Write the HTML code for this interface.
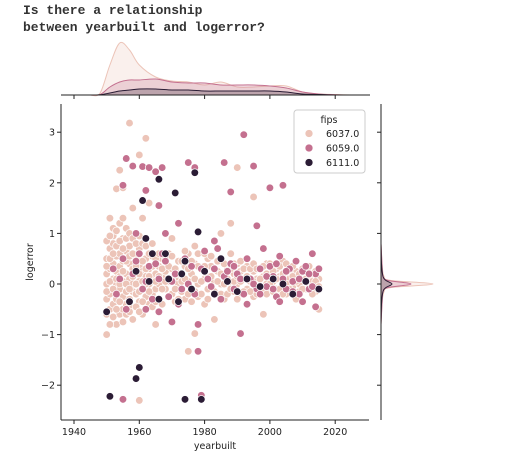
<!DOCTYPE html>
<html><head><meta charset="utf-8"><style>
body{margin:0;background:#fff;}
svg text{font-family:"DejaVu Sans","Liberation Sans",sans-serif;}
</style></head><body>
<svg id="chart" width="510" height="463" viewBox="0 0 510 463" xmlns="http://www.w3.org/2000/svg">
<text x="23" y="14" style="font-family:'Liberation Mono',monospace;font-size:13px;font-weight:bold" fill="#333">Is there a relationship</text>
<text x="23" y="31" style="font-family:'Liberation Mono',monospace;font-size:13px;font-weight:bold" fill="#333">between yearbuilt and logerror?</text>
<g id="topm"></g>
<g id="rightm"></g>
<g id="main"></g>
<g id="axes"></g>
</svg>
<script>
const seriesNames=["6037.0","6059.0","6111.0"];
const seriesColors=["#ecc4b8","#c4708f","#2b1c35"];
const xTicks=[1940,1960,1980,2000,2020];
const yTicks=[-2,-1,0,1,2,3];
const s6037=[[1957,3.18],[1960,2.55],[1962,2.88],[1954,2.25],[1953,1.88],[1955,1.9],[1951,1.3],[1958,1.5],[1961,1.3],[1950,-1.0],[1953,-0.8],[1960,-2.3],[1975,-1.33],[1977,-0.98],[1988,1.2],[1995,1.72],[1990,2.3],[1985,1.0],[1998,-0.6],[1970,0.9],[1963,1.6],[1956,1.1],[1952,0.95],[1965,-0.8],[1983,-0.7],
[1950,0.2],[1950,-0.3],[1950,0.5],[1950,0],[1951,0.3],[1951,-0.2],[1951,0.7],[1951,-0.5],[1952,0.1],[1952,-0.4],[1952,0.4],[1952,0.8],[1953,0],[1953,0.55],[1953,-0.3],[1953,0.25],[1954,0.15],[1954,-0.6],[1954,0.6],[1954,-0.1],[1954,0.35],[1955,0.05],[1955,-0.25],[1955,0.45],[1955,0.9],[1955,-0.5],[1956,0.2],[1956,-0.15],[1956,0.65],[1956,-0.4],[1957,0.1],[1957,0.4],[1957,-0.3],[1957,0.75],[1958,0],[1958,0.3],[1958,-0.45],[1958,-0.15],[1959,0.2],[1959,0.5],[1959,-0.2],[1960,0.05],[1960,0.35],[1960,-0.35],[1960,0.7],[1961,-0.1],[1961,0.25],[1961,-0.6],[1962,0.15],[1962,0.5],[1962,-0.25],[1963,0],[1963,0.3],[1963,-0.4],[1964,0.1],[1964,-0.2],[1964,0.55],[1965,0.2],[1965,-0.1],[1966,0.35],[1966,0],[1966,-0.3],[1967,0.15],[1967,0.5],[1968,-0.1],[1968,0.25],[1969,0.05],[1969,0.6],[1970,-0.2],[1970,0.3],[1971,0.1],[1971,-0.35],[1972,0.45],[1972,0],[1973,0.2],[1973,-0.15],[1974,0.35],[1974,-0.3],[1975,0.05],[1975,0.6],[1976,0.2],[1976,-0.1],[1977,0.4],[1977,0.75],[1978,0],[1978,-0.25],[1979,0.3],[1980,0.1],[1980,-0.4],[1981,0.5],[1981,0.15],[1982,-0.1],[1982,0.35],[1983,0.05],[1984,0.25],[1984,-0.2],[1985,0.45],[1985,0],[1986,0.15],[1986,-0.3],[1987,0.3],[1988,0.05],[1988,0.6],[1989,-0.15],[1989,0.2],[1990,0.4],[1990,0],[1991,-0.2],[1991,0.25],[1992,0.1],[1993,0.35],[1993,-0.1],[1994,0.05],[1995,0.25],[1995,-0.25],[1996,0.1],[1997,0.3],[1997,-0.1],[1998,0.15],[1999,0],[1999,0.4],[2000,0.2],[2000,-0.15],[2001,0.05],[2002,0.3],[2002,-0.1],[2003,0.15],[2004,0],[2004,0.45],[2005,-0.2],[2005,0.2],[2006,0.1],[2007,-0.05],[2008,0.25],[2009,0],[2010,0.1],[2011,-0.1],[2012,0.15],[2013,0.05],[2014,-0.15],[2015,0.1],[2015,-0.5],[2012,0.35],[2008,-0.3],
[1950,0.85],[1950,-0.6],[1950,0.35],[1950,-0.15],[1951,0.05],[1951,0.95],[1951,-0.8],[1951,0.5],[1952,-0.1],[1952,0.6],[1952,-0.65],[1952,1.1],[1953,0.75],[1953,-0.5],[1953,1.05],[1953,0.1],[1954,0.85],[1954,-0.35],[1954,1.2],[1954,0],[1955,0.25],[1955,-0.75],[1955,0.7],[1955,1.3],[1956,0.45],[1956,-0.6],[1956,0.9],[1956,0],[1957,-0.1],[1957,0.55],[1957,-0.55],[1957,1.0],[1958,0.6],[1958,-0.7],[1958,0.15],[1958,0.9],[1959,0],[1959,-0.45],[1959,0.8],[1959,0.35],[1960,0.2],[1960,-0.55],[1960,0.95],[1960,-0.15],[1961,0.45],[1961,0.05],[1961,0.8],[1961,-0.35],[1962,0],[1962,0.75],[1962,-0.5],[1962,0.3],[1963,0.6],[1963,-0.15],[1963,0.15],[1964,0.35],[1964,-0.45],[1964,0.8],[1965,0.5],[1965,-0.35],[1965,0.05],[1966,0.6],[1966,0.15],[1967,-0.1],[1967,-0.4],[1967,0.3],[1968,0.5],[1968,0.05],[1969,0.35],[1969,-0.25],[1970,0.1],[1970,0.55],[1971,0.3],[1971,-0.1],[1972,0.2],[1972,-0.3],[1973,0.45],[1973,0.05],[1974,0.1],[1974,0.65],[1975,-0.2],[1975,0.3],[1976,0.45],[1976,-0.35],[1977,0.1],[1977,-0.15],[1978,0.35],[1978,0.6],[1979,0.05],[1979,-0.2],[1980,0.35],[1980,0.6],[1981,-0.1],[1981,-0.3],[1982,0.15],[1982,0.55],[1983,0.3],[1983,-0.15],[1984,0.05],[1984,0.45],[1985,0.2],[1985,-0.2],[1986,0.4],[1986,0],[1987,0.1],[1987,-0.2],[1988,0.3],[1988,-0.1],[1989,0.05],[1989,0.4],[1990,0.15],[1990,-0.3],[1991,0.05],[1991,0.45],[1992,0.3],[1992,-0.15],[1993,0.15],[1994,-0.15],[1994,0.3],[1995,0.05],[1995,0.4],[1996,-0.2],[1996,0.3],[1997,0.1],[1998,-0.1],[1998,0.35],[1999,0.2],[1999,-0.2],[2000,0],[2000,0.4],[2001,0.25],[2001,-0.15],[2002,0.1],[2003,-0.1],[2003,0.35],[2004,0.2],[2004,-0.2],[2005,0],[2005,0.4],[2006,-0.1],[2006,0.25],[2007,0.15],[2007,0.35],[2008,0.05],[2009,0.2],[2009,-0.15],[2010,-0.1],[2010,0.3],[2011,0.1],[2011,0.25],[2012,-0.05],[2013,0.2],[2013,-0.2],[2014,0.05],[2014,0.25],[2015,-0.05]];
const s6059=[[1956,2.48],[1958,2.33],[1961,2.32],[1963,2.3],[1965,2.22],[1967,2.3],[1975,2.4],[1977,2.3],[1992,2.95],[1986,2.4],[1995,2.33],[2000,1.9],[2004,1.95],[1955,1.95],[1962,1.85],[1988,1.82],[1972,1.2],[1966,1.55],[1955,-2.28],[1979,-2.2],[1978,-1.33],[1991,-0.98],[1962,-0.5],[1970,-0.75],[1966,-0.55],[1978,-0.8],[1959,1.0],[1968,1.0],[1996,1.15],[1983,0.85],
[1952,0.3],[1953,-0.2],[1955,0.5],[1957,-0.35],[1958,0.2],[1960,0.6],[1961,-0.1],[1963,0.35],[1964,-0.3],[1966,0.1],[1968,0.45],[1969,-0.25],[1971,0.2],[1972,-0.4],[1974,0.5],[1975,0],[1977,-0.2],[1979,0.3],[1980,0.65],[1982,-0.05],[1983,0.3],[1985,-0.3],[1986,0.15],[1988,0.4],[1989,-0.1],[1990,0.2],[1992,-0.2],[1993,0.5],[1994,0.1],[1996,-0.1],[1997,0.3],[1998,0.7],[1999,-0.05],[2000,0.35],[2001,0.15],[2002,-0.25],[2003,0.55],[2004,0.1],[2005,-0.1],[2006,0.3],[2007,0.05],[2008,0.45],[2009,-0.2],[2010,0.25],[2011,0.05],[2012,-0.1],[2013,0.6],[2014,0.2],[2015,0.3],[2014,-0.45],[2003,-0.35],[1993,-0.4],[1984,0.7],
[1954,0.1],[1956,-0.5],[1959,0.45],[1962,0.05],[1965,0.4],[1967,0.6],[1970,0.05],[1973,-0.1],[1976,0.35],[1981,0.1],[1987,0.25],[1989,0.35],[1991,0.1],[1995,0],[1997,-0.2],[1999,0.15],[2001,-0.1],[2002,0.4],[2005,0.25],[2007,-0.15],[2009,0.1],[2011,0.35],[2012,0.2],[2013,-0.05],[2010,-0.35]];
const s6111=[[1951,-2.22],[1960,-1.65],[1959,-1.87],[1974,-2.28],[1979,-2.28],[1961,1.65],[1966,2.07],[1971,1.8],[1977,2.2],[1978,1.03],[1950,-0.55],[1962,0.9],[1972,-0.35],[1957,-0.35],[1985,0.5],[1964,0.6],[1959,0.25],[1963,0.05],[1966,-0.3],[1969,0.1],[1973,0.2],[1976,-0.1],[1980,0.25],[1983,-0.2],[1987,0.05],[1990,-0.15],[1993,0.1],[1997,-0.05],[2001,0.1],[2004,0],[2007,-0.2],[2011,0.05],[2015,-0.1],[1968,0.6],[1974,0.45]];
const kdeX=[1945,1948,1951,1954,1957,1960,1965,1970,1975,1980,1985,1990,1995,2000,2005,2010,2015,2020,2025];
const kdeTop=[[0,2,30,52,45,30,18,14,13,10,13,8,8,9,9,3,1,0.5,0],[0,0.5,8,13,15,15,16,13,12,12,10,10,10,9,7,3,1,0.3,0],[0,0.3,2,4,5,6,6,5,5,4,4,4,4,4,3,1,0.5,0,0]];
const kdeY=[-0.8,-0.4,-0.15,-0.07,0,0.07,0.15,0.4,0.8];
const kdeRight=[[0,1,3,10,52,10,3,1,0],[0,1,2,7,30,7,2,1,0],[0,0.5,2,5,11,5,2,0.5,0]];

const NS="http://www.w3.org/2000/svg";
const X0=61,X1=369,Y0=104,Y1=420;
const xs=v=>74+(v-1940)*3.265;
const ys=v=>284-v*50.6;
function mk(tag,attrs,parent){const e=document.createElementNS(NS,tag);for(const k in attrs)e.setAttribute(k,attrs[k]);parent.appendChild(e);return e;}
function smooth(pts){let d='M'+pts[0][0].toFixed(1)+','+pts[0][1].toFixed(1);
 for(let i=0;i<pts.length-1;i++){const p0=pts[i-1]||pts[i],p1=pts[i],p2=pts[i+1],p3=pts[i+2]||p2;
  const c1=[p1[0]+(p2[0]-p0[0])/6,p1[1]+(p2[1]-p0[1])/6],c2=[p2[0]-(p3[0]-p1[0])/6,p2[1]-(p3[1]-p1[1])/6];
  d+=' C'+c1[0].toFixed(1)+','+c1[1].toFixed(1)+' '+c2[0].toFixed(1)+','+c2[1].toFixed(1)+' '+p2[0].toFixed(1)+','+p2[1].toFixed(1);}
 return d;}
const mainG=document.getElementById('main'),axesG=document.getElementById('axes'),topG=document.getElementById('topm'),rightG=document.getElementById('rightm');
[s6037,s6059,s6111].forEach((s,i)=>{s.forEach(p=>{
 const c=mk('circle',{cx:xs(p[0]),cy:ys(p[1]),r:3.8,fill:seriesColors[i],stroke:'#fff','stroke-width':0.7},mainG);
 
 
});});
mk('line',{x1:X0,y1:Y0,x2:X0,y2:Y1,stroke:'#222','stroke-width':1},axesG);
mk('line',{x1:X0,y1:Y1,x2:X1,y2:Y1,stroke:'#222','stroke-width':1},axesG);
xTicks.forEach(t=>{const x=xs(t);mk('line',{x1:x,y1:Y1,x2:x,y2:Y1+4,stroke:'#222'},axesG);
 const tx=mk('text',{x:x,y:Y1+15,'font-size':9.5,'text-anchor':'middle',fill:'#222'},axesG);tx.textContent=t;
 
 
 mk('line',{x1:x,y1:95,x2:x,y2:99,stroke:'#222'},topG);});
yTicks.forEach(t=>{const y=ys(t);mk('line',{x1:X0-4,y1:y,x2:X0,y2:y,stroke:'#222'},axesG);
 const tx=mk('text',{x:X0-6,y:y+3.5,'font-size':9.5,'text-anchor':'end',fill:'#222'},axesG);tx.textContent=t.toString().replace('-','\u2212');
 
 
 mk('line',{x1:377,y1:y,x2:381,y2:y,stroke:'#222'},rightG);});
const xl=mk('text',{x:215,y:449,'font-size':9.5,'text-anchor':'middle',fill:'#222'},axesG);xl.textContent='yearbuilt';


const yl=mk('text',{x:33,y:262,'font-size':9.5,'text-anchor':'middle',fill:'#222',transform:'rotate(-90 33 262)'},axesG);yl.textContent='logerror';


kdeTop.forEach((d,i)=>{const pts=kdeX.map((x,j)=>[xs(x),95-d[j]]);
 const p=smooth(pts)+' Z';
 const e=mk('path',{d:p,fill:seriesColors[i],'fill-opacity':0.25,stroke:seriesColors[i],'stroke-width':1},topG);
 
 });
mk('line',{x1:61,y1:95,x2:370,y2:95,stroke:'#222'},topG);
kdeRight.forEach((d,i)=>{const pts=kdeY.map((y,j)=>[381+d[j],ys(y)]);
 const p=smooth(pts)+' Z';
 const e=mk('path',{d:p,fill:seriesColors[i],'fill-opacity':0.25,stroke:seriesColors[i],'stroke-width':1},rightG);
 
 });
mk('line',{x1:381,y1:104,x2:381,y2:420,stroke:'#222'},rightG);
const lg=mk('g',{},axesG);


mk('rect',{x:294,y:110,width:71,height:63,rx:3,fill:'#fff','fill-opacity':0.85,stroke:'#ccc'},lg);
const lt=mk('text',{x:329,y:123,'font-size':9.5,'text-anchor':'middle',fill:'#222'},lg);lt.textContent='fips';
seriesNames.forEach((n,i)=>{const y=137+i*14.5;
 const g=mk('g',{},lg);
 
 
 mk('circle',{cx:309,cy:y-3.5,r:4,fill:seriesColors[i],stroke:'#fff','stroke-width':0.7},g);
 const t=mk('text',{x:326,y:y,'font-size':9.5,fill:'#222'},g);t.textContent=n;});
</script>
</body></html>
